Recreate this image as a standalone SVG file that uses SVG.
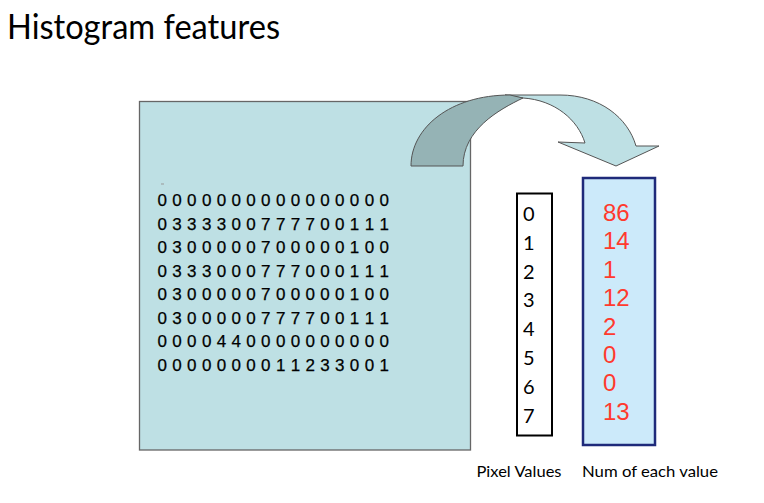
<svg xmlns="http://www.w3.org/2000/svg" width="764" height="503" viewBox="0 0 764 503">
<style>
.title{font-family:Lato,"Open Sans",sans-serif;font-size:34px;fill:#000}
.grid{font-family:"Liberation Sans",Arial,sans-serif;font-size:17px;letter-spacing:0.31px;fill:#000;stroke:#000;stroke-width:0.25}
.pv{font-family:Lato,"Open Sans",sans-serif;font-size:20px;fill:#000}
.cnt{font-family:"Liberation Sans",Arial,sans-serif;font-size:24px;fill:#FF3A2E}
.lbl{font-family:Lato,"Open Sans",sans-serif;font-size:16px;fill:#000}
</style>
<rect width="764" height="503" fill="#fff"/>
<text class="title" x="7" y="39" textLength="273" lengthAdjust="spacingAndGlyphs">Histogram features</text>
<g id="image">
<rect x="139.5" y="101.5" width="331" height="348.5" fill="#BEE0E4" stroke="#666" stroke-width="1.3"/>
<line x1="161" y1="184" x2="164" y2="184" stroke="#999" stroke-width="1"/>
<g class="grid">
<text x="157.5" y="206">0 0 0 0 0 0 0 0 0 0 0 0 0 0 0 0</text>
<text x="157.5" y="229.6">0 3 3 3 3 0 0 7 7 7 7 0 0 1 1 1</text>
<text x="157.5" y="253.1">0 3 0 0 0 0 0 7 0 0 0 0 0 1 0 0</text>
<text x="157.5" y="276.7">0 3 3 3 0 0 0 7 7 7 0 0 0 1 1 1</text>
<text x="157.5" y="300.3">0 3 0 0 0 0 0 7 0 0 0 0 0 1 0 0</text>
<text x="157.5" y="323.9">0 3 0 0 0 0 0 7 7 7 7 0 0 1 1 1</text>
<text x="157.5" y="347.4">0 0 0 0 4 4 0 0 0 0 0 0 0 0 0 0</text>
<text x="157.5" y="371">0 0 0 0 0 0 0 0 1 1 2 3 3 0 0 1</text>
</g>
</g>
<g id="connectors">
<path d="M505,95 L560,95 C600,95 628,118 636,146 L659,146 L616,166 L558,142 L585,143 C578,120 555,100 523,98 Z" fill="#BEE0E4" stroke="#555" stroke-width="1"/>
<path d="M411,166 C411,128 450,95 510,95 L523,98 C498,110 463,130 463,166 Z" fill="#95B3B5" stroke="#555" stroke-width="1"/>
</g>
<g id="pixel-values">
<rect x="517" y="193.5" width="35" height="242" fill="#fff" stroke="#000" stroke-width="2"/>
<g class="pv">
<text x="523" y="221">0</text>
<text x="523" y="249.8">1</text>
<text x="523" y="278.6">2</text>
<text x="523" y="307.4">3</text>
<text x="523" y="336.2">4</text>
<text x="523" y="365">5</text>
<text x="523" y="393.8">6</text>
<text x="523" y="422.6">7</text>
</g>
<text class="lbl" x="476.5" y="477" textLength="85" lengthAdjust="spacingAndGlyphs">Pixel Values</text>
</g>
<g id="counts">
<rect x="583" y="178" width="72" height="267" fill="#CCEAFA" stroke="#1F2A7A" stroke-width="2.5"/>
<g class="cnt">
<text x="603" y="221">86</text>
<text x="603" y="249.4">14</text>
<text x="603" y="277.8">1</text>
<text x="603" y="306.2">12</text>
<text x="603" y="334.6">2</text>
<text x="603" y="363">0</text>
<text x="603" y="391.4">0</text>
<text x="603" y="419.8">13</text>
</g>
<text class="lbl" x="582" y="477" textLength="136" lengthAdjust="spacingAndGlyphs">Num of each value</text>
</g>
</svg>
